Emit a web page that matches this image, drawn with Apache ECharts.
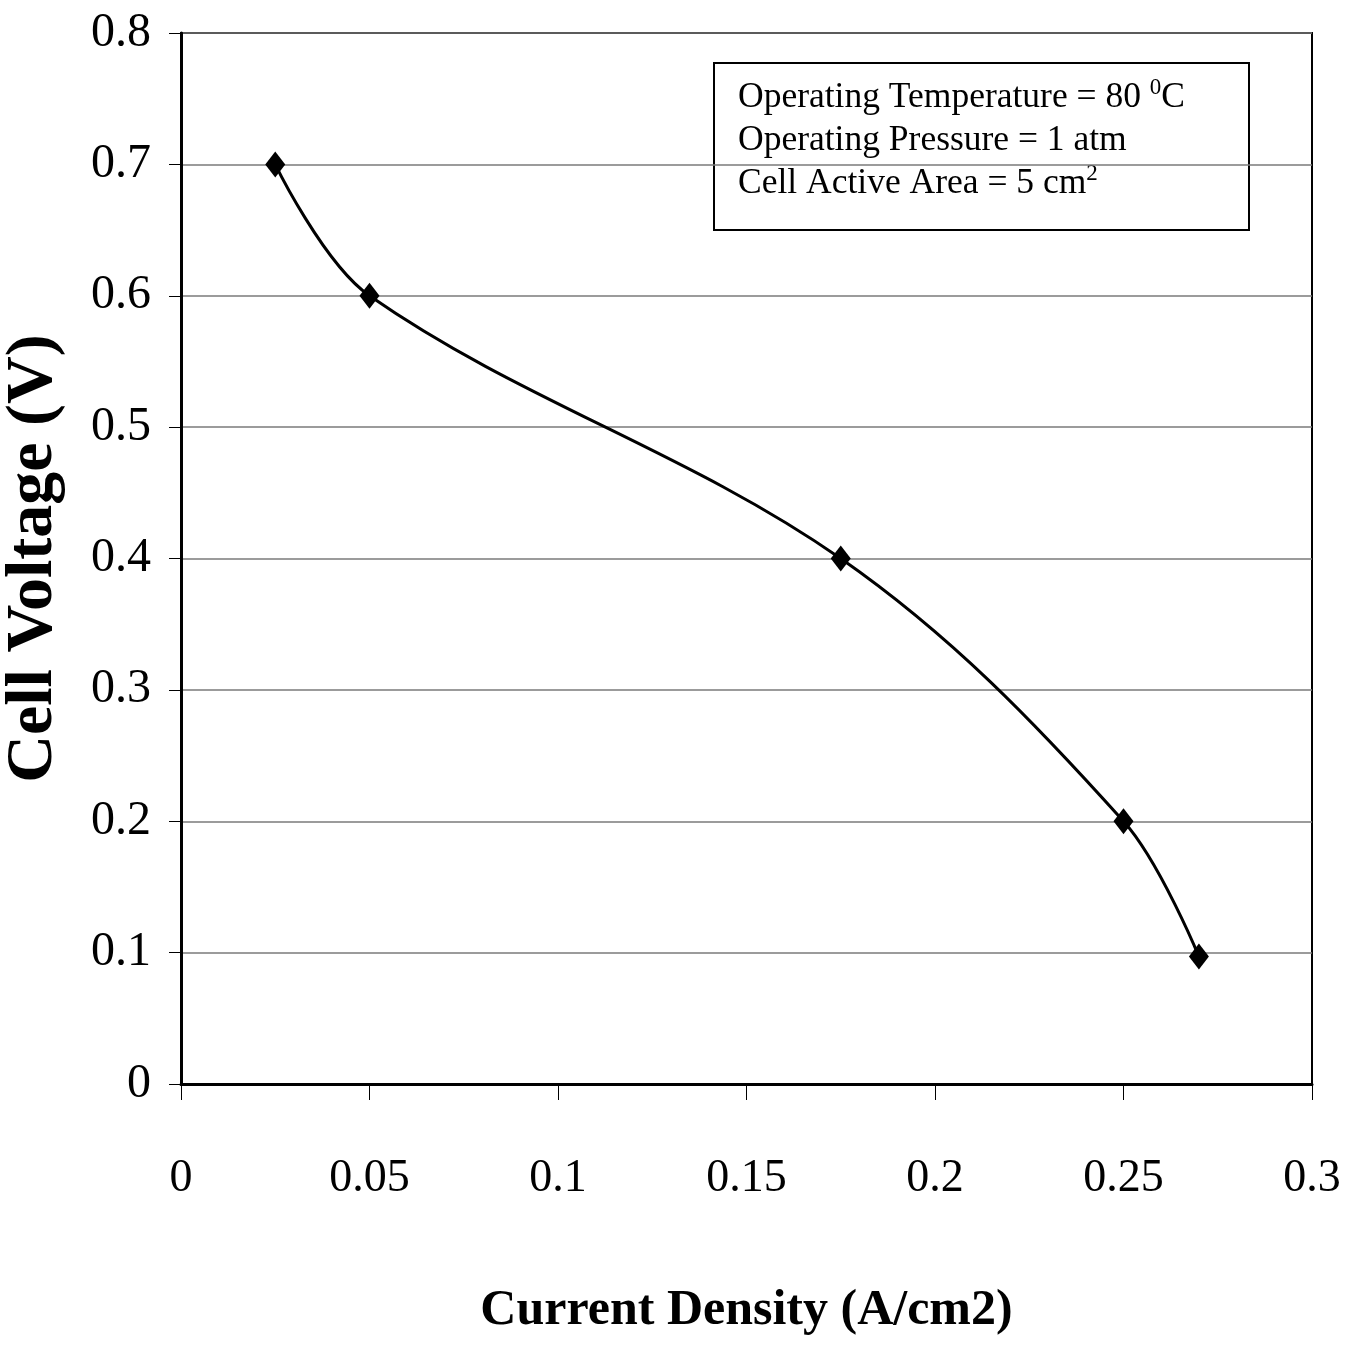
<!DOCTYPE html>
<html>
<head>
<meta charset="utf-8">
<script src="https://cdn.jsdelivr.net/npm/echarts@6/dist/echarts.min.js"></script>
<style>
html,body{margin:0;padding:0;background:#fff;}
#chart{width:1354px;height:1351px;}
</style>
</head>
<body>
<div id="chart"></div>
<script>
var currentDensity = [0.025, 0.05, 0.175, 0.25, 0.27];
var cellVoltage = [0.70, 0.60, 0.40, 0.20, 0.097];
var xTicks = [0, 0.05, 0.1, 0.15, 0.2, 0.25, 0.3];
var yTicks = [0, 0.1, 0.2, 0.3, 0.4, 0.5, 0.6, 0.7, 0.8];
var infoLines = [
  ['Operating Temperature = 80 ', '0', 'C'],
  ['Operating Pressure = 1 atm', '', ''],
  ['Cell Active Area = 5 cm', '2', '']
];

var FONT = '"Liberation Serif", "Times New Roman", serif';
var chart = echarts.init(document.getElementById('chart'));

var infoText = infoLines.map(function (l) {
  var s = '{n|' + l[0] + '}';
  if (l[1]) s += '{s|' + l[1] + '}';
  if (l[2]) s += '{n|' + l[2] + '}';
  return s;
}).join('\n');

var option = {
  backgroundColor: '#fff',
  animation: false,
  grid: {
    left: 181, top: 33, right: 42, bottom: 267,
    containLabel: false, outerBoundsMode: 'none',
    show: true, borderColor: '#000', borderWidth: 2, backgroundColor: 'transparent'
  },
  xAxis: {
    type: 'value', min: 0, max: 0.3, interval: 0.05,
    name: 'Current Density (A/cm2)',
    nameLocation: 'middle', nameGap: 202,
    nameTextStyle: { fontFamily: FONT, fontWeight: 'bold', fontSize: 50, color: '#000' },
    axisLine: { show: true, onZero: false, lineStyle: { color: '#000', width: 3 } },
    axisTick: { show: true, inside: false, length: 16, lineStyle: { color: '#000', width: 1 } },
    axisLabel: {
      margin: 72, fontFamily: FONT, fontSize: 46, color: '#000',
      formatter: function (v) { return String(+v.toFixed(2)); }
    },
    splitLine: { show: false }
  },
  yAxis: {
    type: 'value', min: 0, max: 0.8, interval: 0.1,
    name: 'Cell Voltage (V)',
    nameLocation: 'middle', nameGap: 114,
    nameTextStyle: { fontFamily: FONT, fontWeight: 'bold', fontSize: 66, color: '#000' },
    axisLine: { show: true, lineStyle: { color: '#000', width: 3 } },
    axisTick: { show: true, inside: false, length: 12, lineStyle: { color: '#000', width: 1 } },
    axisLabel: {
      margin: 30, fontFamily: FONT, fontSize: 48, color: '#000',
      formatter: function (v) { return String(+v.toFixed(1)); }
    },
    splitLine: { show: true, lineStyle: { color: '#7a7a7a', width: 1.5 } }
  },
  series: [{
    type: 'line',
    data: currentDensity.map(function (x, i) { return [x, cellVoltage[i]]; }),
    smooth: 0.35,
    symbol: 'diamond',
    symbolSize: [20, 26],
    itemStyle: { color: '#000' },
    lineStyle: { color: '#000', width: 3 },
    z: 5
  }],
  graphic: [{
    type: 'group',
    left: 713, top: 62,
    children: [{
      type: 'rect',
      shape: { x: 0, y: 0, width: 535, height: 167 },
      style: { fill: '#fff', stroke: '#000', lineWidth: 2 }
    }, {
      type: 'text',
      x: 24, y: 13,
      style: {
        text: infoText,
        fill: '#000',
        rich: {
          n: { fontFamily: FONT, fontSize: 35.5, lineHeight: 43, color: '#000' },
          s: { fontFamily: FONT, fontSize: 23, lineHeight: 43, verticalAlign: 'top', color: '#000' }
        }
      }
    }]
  }]
};
chart.setOption(option);
</script>
</body>
</html>
